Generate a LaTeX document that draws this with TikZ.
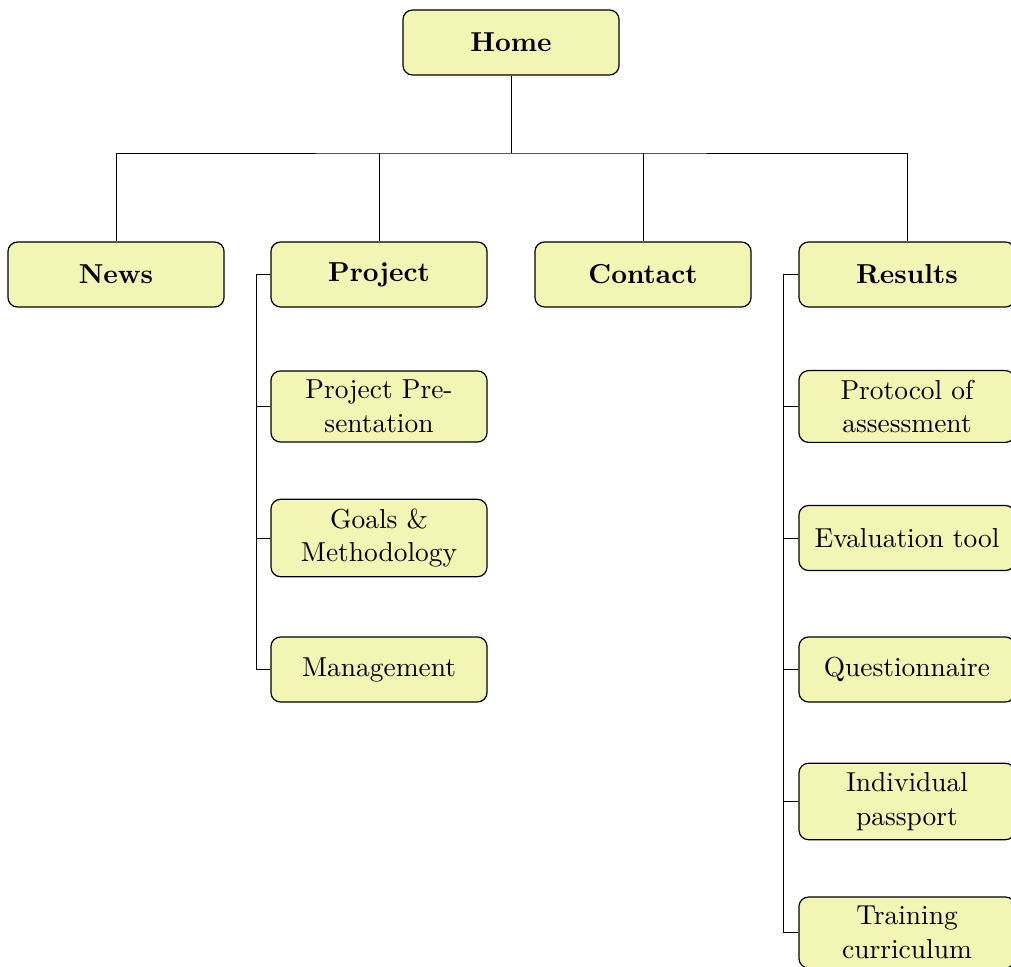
\documentclass[tikz,border=0pt]{standalone}
\begin{document}
\begin{tikzpicture}[x=0.372pt,y=-0.372pt,
  box/.style={draw, rounded corners=3.6pt, fill=boxfill, line width=0.45pt,
    minimum width=80.4pt, minimum height=24.2pt, align=center, inner sep=3.4pt,
    font=\fontsize{10.2}{12.6}\selectfont},
  top/.style={box, font=\fontsize{10.2}{12.6}\selectfont\bfseries},
  sub/.style={box},
  link/.style={draw, line width=0.35pt}]
\definecolor{boxfill}{RGB}{242,245,180}
\useasboundingbox (0,0) rectangle (1011,967);

% root and first level
\node[top] (home) at (511,42.5) {Home};
\node[top] (news) at (116,274.5) {News};
\node[top] (proj) at (379,274.5) {Project};
\node[top] (cont) at (643,274.5) {Contact};
\node[top] (res)  at (907,274.5) {Results};

% horizontal bus under the root
\coordinate (bus) at (511,153);
\draw[link] (home.south) -- (bus);
\draw[link] (news.north) |- (bus) -| (res.north);
\draw[link] (proj.north) -- (proj.north |- bus);
\draw[link] (cont.north) -- (cont.north |- bus);

% Project pages
\node[sub] (pp)  at (379,406.5) {Project Pre-\\sentation};
\node[sub] (gm)  at (379,538) {Goals \&\\Methodology};
\node[sub] (mg)  at (379,669.5) {Management};
\coordinate (pbar) at (256,274.5);
\draw[link] (proj.west) -- (pbar) |- (mg.west);
\foreach \n in {pp,gm}
  \draw[link] (\n.west) -- (\n.west -| pbar);

% Results pages
\node[sub] (pa)  at (907,406.5) {Protocol of\\assessment};
\node[sub] (et)  at (907,538) {Evaluation tool};
\node[sub] (qu)  at (907,669.5) {Questionnaire};
\node[sub] (ip)  at (907,801.5) {Individual\\passport};
\node[sub] (tc)  at (907,932.5) {Training\\curriculum};
\coordinate (rbar) at (783,274.5);
\draw[link] (res.west) -- (rbar) |- (tc.west);
\foreach \n in {pa,et,qu,ip}
  \draw[link] (\n.west) -- (\n.west -| rbar);
\end{tikzpicture}
\end{document}
